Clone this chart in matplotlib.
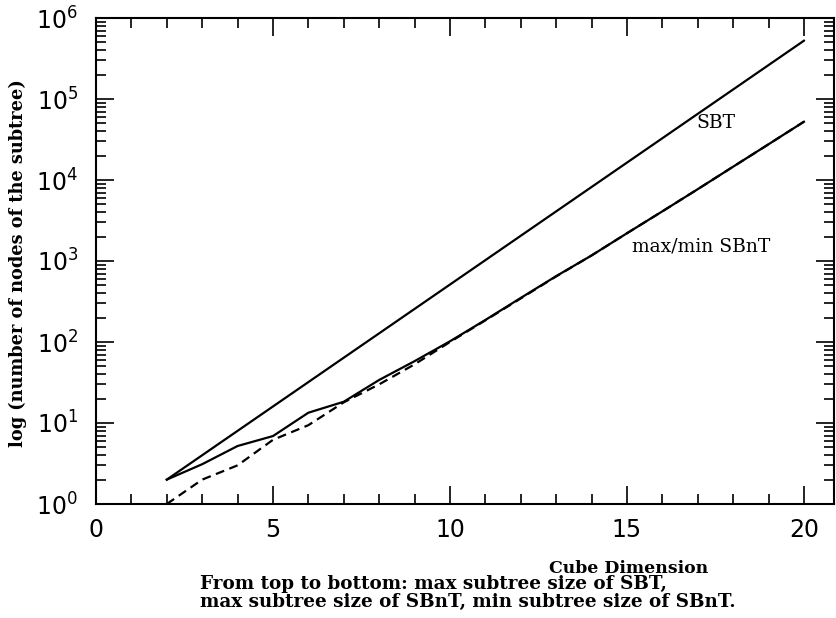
import matplotlib
matplotlib.use('Agg')
import matplotlib.pyplot as plt
from matplotlib.ticker import MultipleLocator, LogLocator, NullFormatter

# values
dims = [2, 3, 4, 5, 6, 7, 8, 9, 10, 11, 12, 13, 14, 15, 16, 17, 18, 19, 20]
sbt_max = [2, 4, 8, 16, 32, 64, 128, 256, 512, 1024, 2048, 4096, 8192,
           16384, 32768, 65536, 131072, 262144, 524288]
sbnt_max = [2, 3.1, 5.2, 6.9, 13.4, 18.3, 34, 58, 102, 187, 350, 650, 1170,
            2200, 4100, 7700, 14600, 27600, 52400]
sbnt_min = [1, 2, 3, 6.2, 9.4, 18, 30, 53, 100, 185, 345, 645, 1170,
            2200, 4100, 7700, 14600, 27600, 52400]

W, H = 836, 618
fig = plt.figure(figsize=(W / 100, H / 100), dpi=100)
ax = fig.add_axes([96 / W, 1 - 504 / H, (834 - 96) / W, (504 - 18) / H])

ax.plot(dims, sbt_max, color='black', lw=1.6)
ax.plot(dims, sbnt_max, color='black', lw=1.6)
ax.plot(dims, sbnt_min, color='black', lw=1.6, dashes=(4, 2.5))

ax.set_yscale('log')
ax.set_ylim(1, 1e6)
ax.set_xlim(0, 20.85)

ax.xaxis.set_major_locator(MultipleLocator(5))
ax.xaxis.set_minor_locator(MultipleLocator(1))
ax.yaxis.set_major_locator(LogLocator(base=10, numticks=10))
ax.yaxis.set_minor_locator(LogLocator(base=10, subs=range(2, 10), numticks=20))
ax.yaxis.set_minor_formatter(NullFormatter())

ax.tick_params(which='both', direction='in', top=True, right=True, width=1.2)
ax.tick_params(which='major', length=13, labelsize=17)
ax.tick_params(which='minor', length=7)
ax.tick_params(axis='y', which='major', pad=13)
ax.tick_params(axis='x', which='major', pad=10)
for s in ax.spines.values():
    s.set_linewidth(1.5)

ax.text(17.5, 5e4, 'SBT', family='DejaVu Serif', fontsize=13.5,
        ha='center', va='center')
ax.text(17.1, 1.5e3, 'max/min SBnT', family='DejaVu Serif', fontsize=13.5,
        ha='center', va='center')

fig.text(18 / W, 1 - 263 / H, 'log (number of nodes of the subtree)',
         family='DejaVu Serif', weight='bold', fontsize=12.8,
         rotation=90, ha='center', va='center')
fig.text(629 / W, 1 - 573 / H, 'Cube Dimension', family='DejaVu Serif',
         weight='bold', fontsize=12.4, ha='center', va='baseline')
fig.text(200 / W, 1 - 589 / H, 'From top to bottom: max subtree size of SBT,',
         family='DejaVu Serif', weight='bold', fontsize=13.2,
         ha='left', va='baseline')
fig.text(200 / W, 1 - 607 / H, 'max subtree size of SBnT, min subtree size of SBnT.',
         family='DejaVu Serif', weight='bold', fontsize=13.2,
         ha='left', va='baseline')

fig.savefig('out.png', dpi=100)
